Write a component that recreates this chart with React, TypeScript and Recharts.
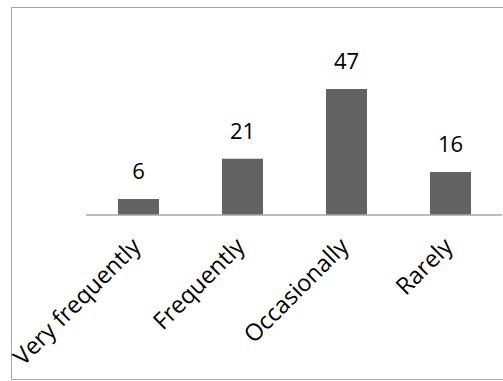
import { Bar, BarChart, LabelList, XAxis, YAxis } from "recharts";

const categories = ["Very frequently", "Frequently", "Occasionally", "Rarely"];
const responses = [6, 21, 47, 16];

const data = categories.map((name, i) => ({ name, value: responses[i] }));

const FONT = "'Open Sans', sans-serif";

function SlantTick(props: any) {
  const { x, y, payload } = props;
  return (
    <g transform={`translate(${x + 4},${y + 25})`}>
      <text
        x={0}
        y={0}
        textAnchor="end"
        transform="rotate(-45)"
        fill="#000"
        fontSize={23.5}
        fontFamily={FONT}
      >
        {payload.value}
      </text>
    </g>
  );
}

export default function App() {
  return (
    <div
      style={{
        position: "fixed",
        left: 0,
        top: 0,
        width: 503,
        height: 381,
        overflow: "hidden",
        background: "#fff",
      }}
    >
      <div
        style={{
          position: "absolute",
          left: 11,
          top: 7,
          width: 520,
          height: 371,
          border: "1px solid #a6a6a6",
        }}
      />
      <div style={{ position: "absolute", left: 0, top: 0 }}>
        <BarChart
          width={503}
          height={381}
          data={data}
          margin={{ top: 81, right: 1, bottom: 6, left: 86 }}
          barSize={41}
        >
          <XAxis
            dataKey="name"
            height={160}
            axisLine={{ stroke: "#a6a6a6", strokeWidth: 1.5 }}
            tickLine={false}
            interval={0}
            tick={<SlantTick />}
          />
          <YAxis hide domain={[0, 50]} />
          <Bar dataKey="value" fill="#636363" isAnimationActive={false}>
            <LabelList
              dataKey="value"
              position="top"
              offset={20}
              fill="#000"
              fontSize={22}
              fontFamily={FONT}
            />
          </Bar>
        </BarChart>
      </div>
    </div>
  );
}
